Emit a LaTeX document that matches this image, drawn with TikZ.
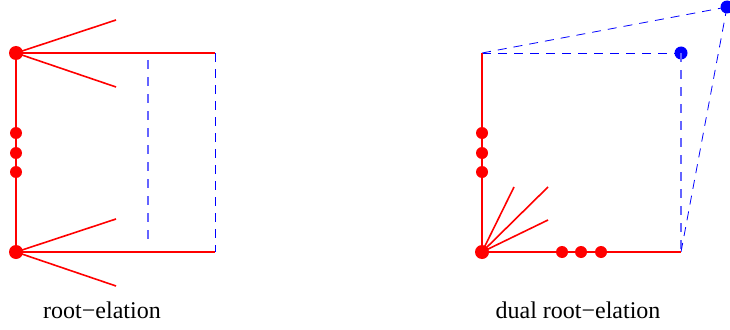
\documentclass[tikz,border=0pt]{standalone}
\usepackage{fontspec}
\setmainfont{Liberation Serif}
\begin{document}
\begin{tikzpicture}[x=1pt,y=-1pt,
  redline/.style={draw=red,line width=1.6pt},
  bluedash/.style={draw=blue,line width=0.8pt,dash pattern=on 9pt off 7pt},
  lightdash/.style={draw={rgb,255:red,100;green,100;blue,255},line width=1.5pt,dash pattern=on 9pt off 8pt},
  bigdot/.style={circle,fill=red,inner sep=0pt,minimum size=14pt},
  smalldot/.style={circle,fill=red,inner sep=0pt,minimum size=12pt},
  bluedot/.style={circle,fill=blue,inner sep=0pt,minimum size=13pt},
  lab/.style={font=\fontsize{24}{28}\selectfont,anchor=base}]
\useasboundingbox (0,0) rectangle (730,329);
% left figure
\coordinate (LTR) at (215,53);
\coordinate (LBR) at (215,252);
\coordinate (LT1) at (116,20);
\coordinate (LT2) at (116,87);
\coordinate (LB1) at (116,219);
\coordinate (LB2) at (116,286);
\coordinate (LDa) at (148,60);
\coordinate (LDb) at (148,246);
\draw[lightdash] (LDa) -- (LDb);
\draw[bluedash] (LTR) -- (LBR);
\node[bigdot] (LT) at (16,53) {};
\node[bigdot] (LB) at (16,252) {};
\draw[redline] (LT.center) -- (LB.center);
\draw[redline] (LT.center) -- (LTR);
\draw[redline] (LB.center) -- (LBR);
\draw[redline] (LT.center) -- (LT1);
\draw[redline] (LT.center) -- (LT2);
\draw[redline] (LB.center) -- (LB1);
\draw[redline] (LB.center) -- (LB2);
\node[smalldot] (L1) at (16,133) {};
\node[smalldot] (L2) at (16,153) {};
\node[smalldot] (L3) at (16,172) {};
\node[lab] (labL) at (102,318) {root\char"2212elation};
% right figure
\coordinate (RT) at (482,53);
\coordinate (RBR) at (681,252);
\coordinate (R1) at (514,187);
\coordinate (R2) at (548,187);
\coordinate (R3) at (548,220);
\node[bluedot] (BD1) at (681,53) {};
\node[bluedot] (BD2) at (727,7) {};
\draw[bluedash] (RT) -- (BD1.center);
\draw[bluedash] (RT) -- (BD2.center);
\draw[lightdash] (BD1.center) -- (RBR);
\draw[bluedash] (BD2.center) -- (RBR);
\node[bigdot] (RB) at (482,252) {};
\draw[redline] (RB.center) -- (RT);
\draw[redline] (RB.center) -- (RBR);
\draw[redline] (RB.center) -- (R1);
\draw[redline] (RB.center) -- (R2);
\draw[redline] (RB.center) -- (R3);
\node[smalldot] (R4) at (482,133) {};
\node[smalldot] (R5) at (482,153) {};
\node[smalldot] (R6) at (482,172) {};
\node[smalldot] (H1) at (562,252) {};
\node[smalldot] (H2) at (581,252) {};
\node[smalldot] (H3) at (601,252) {};
\node[lab] (labR) at (578,318) {dual root\char"2212elation};
\end{tikzpicture}
\end{document}
